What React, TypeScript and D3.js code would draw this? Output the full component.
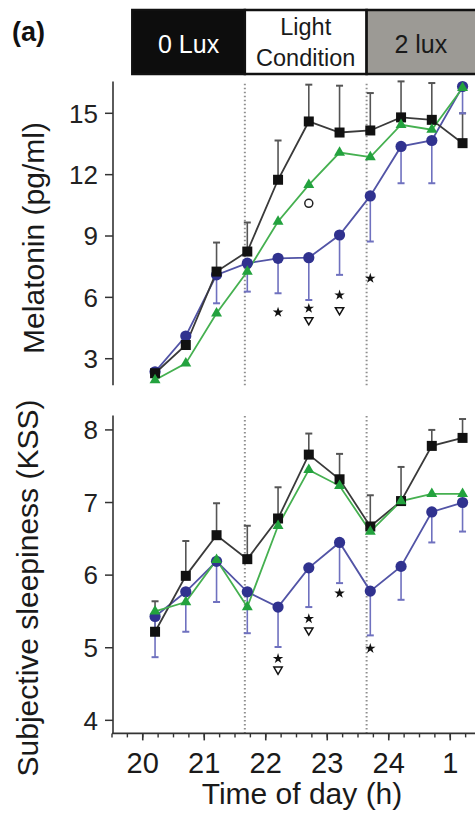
import React from 'react';
import * as d3 from 'd3';

// ---- data ----
const times = [20.2, 20.7, 21.2, 21.7, 22.2, 22.7, 23.2, 23.7, 24.2, 24.7, 25.2];

// Melatonin (pg/ml)
const melBlack = [2.29, 3.67, 7.26, 8.24, 11.75, 14.6, 14.06, 14.16, 14.8, 14.68, 13.54];
const melBlackHi = [2.5, 3.9, 8.68, 9.66, 13.67, 16.4, 16.35, 15.99, 16.56, 16.48, 15.0];
const melGreen = [1.96, 2.77, 5.22, 7.26, 9.71, 11.5, 13.08, 12.86, 14.44, 14.2, 16.24];
const melBlue = [2.36, 4.11, 7.1, 7.67, 7.91, 7.94, 9.05, 10.96, 13.38, 13.67, 16.31];
const melBlueLo = [2.1, 3.6, 5.71, 6.28, 6.2, 5.87, 7.1, 8.73, 11.58, 11.58, 15.0];

// KSS
const kssBlack = [5.22, 5.99, 6.55, 6.22, 6.78, 7.66, 7.32, 6.67, 7.02, 7.78, 7.89];
const kssBlackHi = [5.64, 6.47, 6.99, 6.68, 7.21, 7.95, 7.67, 7.1, 7.49, 8.0, 8.15];
const kssGreen = [5.5, 5.63, 6.21, 5.56, 6.68, 7.45, 7.23, 6.6, 7.02, 7.12, 7.12];
const kssBlue = [5.43, 5.77, 6.19, 5.77, 5.56, 6.1, 6.45, 5.78, 6.12, 6.87, 7.0];
const kssBlueLo = [4.87, 5.22, 5.63, 5.2, 5.01, 5.56, 5.89, 5.17, 5.66, 6.45, 6.6];

const melTicks = [3, 6, 9, 12, 15];
const kssTicks = [4, 5, 6, 7, 8];
const xMajor = [20, 21, 22, 23, 24, 25];
const xMajorLabels = ['20', '21', '22', '23', '24', '1'];
const xMinorStep = 0.25;
const lightChanges = [21.66, 23.64];
const headerEdges = [19.83, 21.66, 23.64, 25.6];
const headerLabels = [['0 Lux'], ['Light', 'Condition'], ['2 lux']];

// annotations: [index, value, type]
const melMarks: [number, number, string][] = [
  [4, 5.27, 'star'], [5, 5.46, 'star'], [5, 4.89, 'tri'], [6, 6.11, 'star'], [6, 5.38, 'tri'],
  [7, 6.93, 'star'], [5, 10.6, 'circle'],
];
const kssMarks: [number, number, string][] = [
  [4, 4.85, 'star'], [4, 4.7, 'tri'], [5, 5.4, 'star'], [5, 5.24, 'tri'], [6, 5.75, 'star'],
  [7, 4.99, 'star'],
];

const FONT = '"Liberation Sans", Arial, Helvetica, sans-serif';
const W = 475, H = 818;
const BLACK = '#111';
const BLACK_LINE = '#3a3a3a';
const BLACK_ERR = '#555';
const GREEN = '#23a23e';
const GREEN_LINE = '#45b050';
const BLUE = '#30328f';
const BLUE_LINE = '#5254a6';
const BLUE_ERR = '#6f71bf';

const x = d3.scaleLinear().domain([19.5, 25.5]).range([112, 481]);
const yMel = d3.scaleLinear().domain([1.7, 16.55]).range([385.3, 81.6]);
const yKss = d3.scaleLinear().domain([3.82, 8.2]).range([733.4, 415.4]);
const AXIS_X = 113;

const starPath = d3.symbol().type(d3.symbolStar).size(34)()!;
const triPath = d3.symbol().type(d3.symbolTriangle).size(30)()!;
const markerTri = d3.symbol().type(d3.symbolTriangle).size(52)()!;

function Panel({ y, black, blackHi, green, blue, blueLo, ticks, marks, tickFont }: any) {
  const [y0, y1] = y.range();
  const line = (vals: number[]) =>
    d3.line<number>().x((_, i) => x(times[i])).y((v) => y(v))(vals)!;
  return (
    <g>
      {lightChanges.map((h, i) => (
        <line key={'dl' + i} x1={x(h)} x2={x(h)} y1={y0} y2={y1}
          stroke="#8f8f8f" strokeWidth={2} strokeDasharray="1.5,2.5" />
      ))}
      {/* y axis */}
      <line x1={AXIS_X} x2={AXIS_X} y1={y0} y2={y1} stroke="#333" strokeWidth={1.6} />
      {ticks.map((t: number) => (
        <g key={'t' + t}>
          <line x1={AXIS_X - 8} x2={AXIS_X} y1={y(t)} y2={y(t)} stroke="#333" strokeWidth={1.5} />
          <text x={98} y={y(t)} dy="0.36em" textAnchor="end" fontSize={tickFont}
            fontFamily={FONT} fill="#222">{t}</text>
        </g>
      ))}
      {/* error bars */}
      {black.map((v: number, i: number) => (
        <g key={'be' + i} stroke={BLACK_ERR} strokeWidth={1.6}>
          <line x1={x(times[i])} x2={x(times[i])} y1={y(v)} y2={y(blackHi[i])} />
          <line x1={x(times[i]) - 3.5} x2={x(times[i]) + 3.5} y1={y(blackHi[i])} y2={y(blackHi[i])} strokeWidth={2} />
        </g>
      ))}
      {blue.map((v: number, i: number) => (
        <g key={'ue' + i} stroke={BLUE_ERR} strokeWidth={1.6}>
          <line x1={x(times[i])} x2={x(times[i])} y1={y(v)} y2={y(blueLo[i])} />
          <line x1={x(times[i]) - 3.5} x2={x(times[i]) + 3.5} y1={y(blueLo[i])} y2={y(blueLo[i])} strokeWidth={2} />
        </g>
      ))}
      {/* lines */}
      <path d={line(blue)} fill="none" stroke={BLUE_LINE} strokeWidth={1.8} />
      <path d={line(black)} fill="none" stroke={BLACK_LINE} strokeWidth={1.8} />
      <path d={line(green)} fill="none" stroke={GREEN_LINE} strokeWidth={1.8} />
      {/* markers */}
      {blue.map((v: number, i: number) => (
        <circle key={'uc' + i} cx={x(times[i])} cy={y(v)} r={5.6} fill={BLUE} />
      ))}
      {black.map((v: number, i: number) => (
        <rect key={'bs' + i} x={x(times[i]) - 5} y={y(v) - 5} width={10} height={10} fill={BLACK} />
      ))}
      {green.map((v: number, i: number) => (
        <path key={'gt' + i} d={markerTri} transform={`translate(${x(times[i])},${y(v)})`} fill={GREEN} />
      ))}
      {/* significance marks */}
      {marks.map(([i, v, t]: [number, number, string], k: number) => {
        const tx = `translate(${x(times[i])},${y(v)})`;
        if (t === 'star') return <path key={'m' + k} d={starPath} transform={tx} fill="#111" />;
        if (t === 'tri')
          return <path key={'m' + k} d={triPath} transform={tx + ' rotate(180)'} fill="white" stroke="#111" strokeWidth={1.5} />;
        return <circle key={'m' + k} cx={x(times[i])} cy={y(v)} r={4} fill="white" stroke="#222" strokeWidth={1.5} />;
      })}
    </g>
  );
}

export default function App() {
  const minor = d3.range(19.5, 25.5 + 1e-9, xMinorStep);
  const xAxisY = yKss.range()[0];
  const hy0 = 10, hy1 = 74;
  return (
    <svg width={W} height={H} viewBox={`0 0 ${W} ${H}`}
      style={{ position: 'absolute', left: 0, top: 0, background: 'white' }}>
      <rect x={0} y={0} width={W} height={H} fill="white" />
      {/* panel label */}
      <text x={12} y={41} fontSize={27} fontWeight="bold" fontFamily={FONT} fill="#111">(a)</text>
      {/* header */}
      {headerLabels.map((lab, i) => {
        const xa = x(headerEdges[i]);
        const xb = x(headerEdges[i + 1]);
        const fill = i === 0 ? '#0d0d0d' : i === 1 ? '#ffffff' : '#9c9a95';
        const cx = (xa + Math.min(xb, W)) / 2;
        return (
          <g key={'h' + i}>
            <rect x={xa} y={hy0} width={xb - xa} height={hy1 - hy0} fill={fill} stroke="#111" strokeWidth={2.5} />
            {lab.length === 1 ? (
              <text x={cx} y={53} textAnchor="middle" fontSize={25} fontFamily={FONT}
                fill={i === 0 ? 'white' : '#1a1a1a'}>{lab[0]}</text>
            ) : (
              <text textAnchor="middle" fontSize={23.5} fontFamily={FONT} fill="#1a1a1a">
                <tspan x={cx} y={35}>{lab[0]}</tspan>
                <tspan x={cx} y={66}>{lab[1]}</tspan>
              </text>
            )}
          </g>
        );
      })}
      <Panel y={yMel} black={melBlack} blackHi={melBlackHi} green={melGreen} blue={melBlue}
        blueLo={melBlueLo} ticks={melTicks} marks={melMarks} tickFont={26} />
      <Panel y={yKss} black={kssBlack} blackHi={kssBlackHi} green={kssGreen} blue={kssBlue}
        blueLo={kssBlueLo} ticks={kssTicks} marks={kssMarks} tickFont={26} />
      {/* x axis */}
      <line x1={x(19.5)} x2={W} y1={xAxisY} y2={xAxisY} stroke="#333" strokeWidth={1.6} />
      {minor.map((h, i) => (
        <line key={'mn' + i} x1={x(h)} x2={x(h)} y1={xAxisY} y2={xAxisY + 4} stroke="#333" strokeWidth={1.4} />
      ))}
      {xMajor.map((h, i) => (
        <g key={'mj' + i}>
          <line x1={x(h)} x2={x(h)} y1={xAxisY} y2={xAxisY + 7} stroke="#333" strokeWidth={1.6} />
          <text x={x(h)} y={773} textAnchor="middle" fontSize={29} fontFamily={FONT} fill="#1a1a1a">
            {xMajorLabels[i]}
          </text>
        </g>
      ))}
      <text x={302} y={804} textAnchor="middle" fontSize={30} fontFamily={FONT} fill="#1a1a1a">Time of day (h)</text>
      <text transform={`translate(43.5,238) rotate(-90)`}
        textAnchor="middle" fontSize={30} fontFamily={FONT} fill="#1a1a1a">Melatonin (pg/ml)</text>
      <text transform={`translate(37.5,588) rotate(-90)`}
        textAnchor="middle" fontSize={30} fontFamily={FONT} fill="#1a1a1a">Subjective sleepiness (KSS)</text>
    </svg>
  );
}
